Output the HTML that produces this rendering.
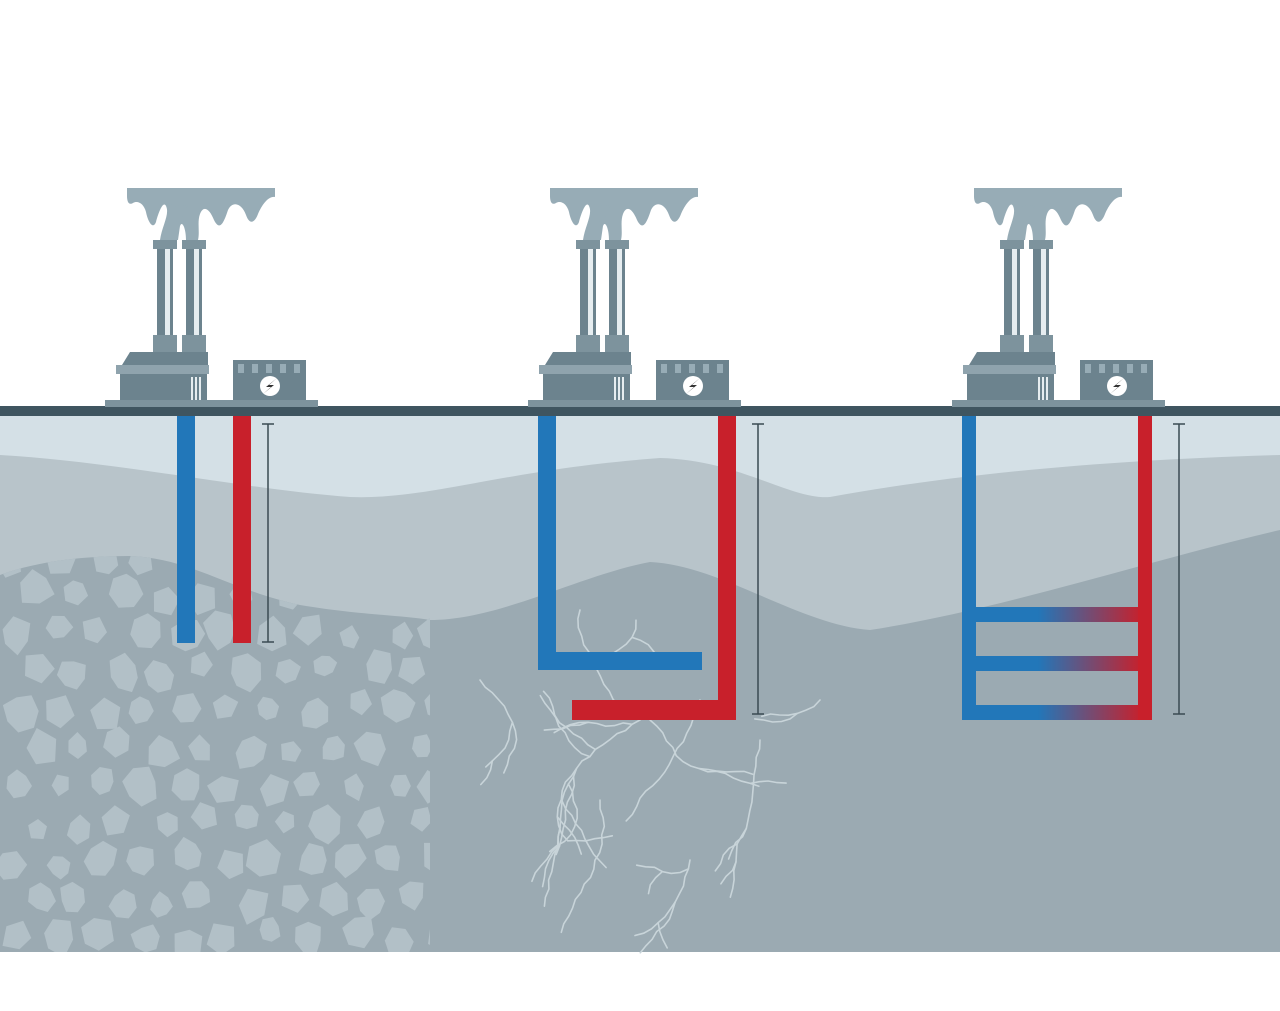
<!DOCTYPE html>
<html><head><meta charset="utf-8"><style>html,body{margin:0;padding:0;background:#fff}svg{display:block}</style></head>
<body>
<svg id="s" width="1280" height="1011" viewBox="0 0 1280 1011" xmlns="http://www.w3.org/2000/svg">
<defs>
<linearGradient id="g" x1="962" x2="1152" y1="0" y2="0" gradientUnits="userSpaceOnUse">
<stop offset="0.4" stop-color="#2277b9"/><stop offset="0.95" stop-color="#c8202b"/></linearGradient>
<clipPath id="rockclip"><path d="M0 575 C40 560 90 556 130 556 C190 558 230 590 300 605 C360 615 400 615 430 618 L430 952 L0 952 Z"/></clipPath>
<g id="plant">
<path d="M127 188 H275 V197 C268 196 262 205 258 214 C255 222 250 226 246 215 C242 204 233 200 228 210 C224 222 220 232 214 220 C210 210 204 204 200 214 C197 222 200 232 198 240 L186 240 C186 228 182 220 180 226 L178 240 L160 240 C162 226 170 214 166 206 C163 200 158 214 156 222 C153 230 148 222 146 212 C144 204 138 200 133 203 C128 206 127 200 127 196 Z" fill="#97acb6"/>
<path d="M170 205 C176 200 178 212 176 224 L180 226 C182 214 186 204 192 206 Z" fill="#97acb6"/>
<rect x="153" y="240" width="24" height="9" fill="#7d939d"/>
<rect x="182" y="240" width="24" height="9" fill="#7d939d"/>
<rect x="157" y="249" width="16" height="86" fill="#6c838e"/>
<rect x="186" y="249" width="16" height="86" fill="#6c838e"/>
<rect x="165" y="249" width="5" height="86" fill="#e6edf0"/>
<rect x="194" y="249" width="5" height="86" fill="#e6edf0"/>
<rect x="153" y="335" width="24" height="17" fill="#7d939d"/>
<rect x="182" y="335" width="24" height="17" fill="#7d939d"/>
<path d="M130 352 H208 V365 H122 Z" fill="#6c838e"/>
<rect x="116" y="365" width="93" height="9" fill="#8fa3ad"/>
<rect x="120" y="374" width="87" height="26" fill="#6c838e"/>
<rect x="191" y="377" width="2" height="23" fill="#e6edf0"/><rect x="195" y="377" width="2" height="23" fill="#e6edf0"/><rect x="199" y="377" width="2" height="23" fill="#e6edf0"/>
<rect x="233" y="360" width="73" height="40" fill="#6c838e"/>
<rect x="238" y="364" width="6" height="9" fill="#97acb6"/><rect x="252" y="364" width="6" height="9" fill="#97acb6"/><rect x="266" y="364" width="6" height="9" fill="#97acb6"/><rect x="280" y="364" width="6" height="9" fill="#97acb6"/><rect x="294" y="364" width="6" height="9" fill="#97acb6"/>
<circle cx="270" cy="386" r="10" fill="#fff"/>
<path d="M277 378 L266 387 L271 387 L263 394 L274 385 L269 385 Z" fill="#333"/>
<rect x="105" y="400" width="213" height="7" fill="#7d939d"/>
</g>
</defs>
<rect x="0" y="416" width="1280" height="536" fill="#d4e0e6"/>
<path d="M0 455 C120 462 250 490 350 497 C430 500 500 470 660 458 C740 460 790 500 830 497 C950 475 1100 460 1280 455 L1280 952 L0 952 Z" fill="#b8c4ca"/>
<path d="M0 575 C40 560 90 556 130 556 C190 558 230 590 300 605 C360 615 400 615 430 620 C500 620 580 575 650 562 C720 565 800 625 870 630 C1000 610 1150 560 1280 530 L1280 952 L0 952 Z" fill="#9baab2"/>
<g id="rocks" clip-path="url(#rockclip)" fill="#b2c0c7"></g>
<g id="cracks" fill="none" stroke="#c8d4d9" stroke-width="1.6" stroke-linecap="round"></g>
<rect x="0" y="406" width="1280" height="10" fill="#3f5560"/>
<use href="#plant"/>
<use href="#plant" x="423"/>
<use href="#plant" x="847"/>
<rect x="177" y="416" width="18" height="227" fill="#2277b9"/>
<rect x="233" y="416" width="18" height="227" fill="#c8202b"/>
<g stroke="#3a4a52" stroke-width="1.5"><line x1="268" y1="424" x2="268" y2="642"/><line x1="262" y1="424" x2="274" y2="424"/><line x1="262" y1="642" x2="274" y2="642"/></g>
<rect x="538" y="416" width="18" height="254" fill="#2277b9"/>
<rect x="538" y="652" width="164" height="18" fill="#2277b9"/>
<rect x="718" y="416" width="18" height="304" fill="#c8202b"/>
<rect x="572" y="700" width="164" height="20" fill="#c8202b"/>
<g stroke="#3a4a52" stroke-width="1.5"><line x1="758" y1="424" x2="758" y2="714"/><line x1="752" y1="424" x2="764" y2="424"/><line x1="752" y1="714" x2="764" y2="714"/></g>
<rect x="962" y="607" width="190" height="15" fill="url(#g)"/>
<rect x="962" y="656" width="190" height="15" fill="url(#g)"/>
<rect x="962" y="705" width="190" height="15" fill="url(#g)"/>
<rect x="962" y="416" width="14" height="304" fill="#2277b9"/>
<rect x="1138" y="416" width="14" height="304" fill="#c8202b"/>
<g stroke="#3a4a52" stroke-width="1.5"><line x1="1179" y1="424" x2="1179" y2="714"/><line x1="1173" y1="424" x2="1185" y2="424"/><line x1="1173" y1="714" x2="1185" y2="714"/></g>
</svg>
<script>
(function(){
var ns="http://www.w3.org/2000/svg",r=document.getElementById("rocks"),c=document.getElementById("cracks");
var seed=7;function rnd(){seed=(seed*16807)%2147483647;return seed/2147483647;}
for(var y=550;y<960;y+=38){for(var x=(y/38%2)*20;x<440;x+=42){
var cx=x+rnd()*14,cy=y+rnd()*14,rr=11+rnd()*6,n=5+Math.floor(rnd()*3),a0=rnd()*6,p=[];
for(var i=0;i<n;i++){var a=a0+i*2*Math.PI/n,q=rr*(0.8+rnd()*0.4);p.push((cx+Math.cos(a)*q).toFixed(1)+","+(cy+Math.sin(a)*q*1.1).toFixed(1));}
var e=document.createElementNS(ns,"polygon");e.setAttribute("points",p.join(" "));r.appendChild(e);}}
function crack(x,y,len,ang,depth){var d="M"+x+" "+y;for(var i=0;i<len;i++){ang+=(rnd()-0.5)*0.9;x+=Math.cos(ang)*9;y+=Math.sin(ang)*9;d+=" L"+x.toFixed(1)+" "+y.toFixed(1);
if(depth<2&&rnd()<0.12)crack(x,y,len/2,ang+(rnd()-0.5)*2,depth+1);}
var e=document.createElementNS(ns,"path");e.setAttribute("d",d);c.appendChild(e);}
crack(580,610,14,1.4,0);crack(640,720,18,2.3,0);crack(650,720,14,0.3,0);crack(700,700,16,1.6,0);crack(480,680,12,0.9,0);crack(760,740,14,1.2,0);crack(600,800,16,2.0,0);crack(820,700,8,2.4,0);crack(690,860,12,1.5,0);
})();
</script>
</body></html>
